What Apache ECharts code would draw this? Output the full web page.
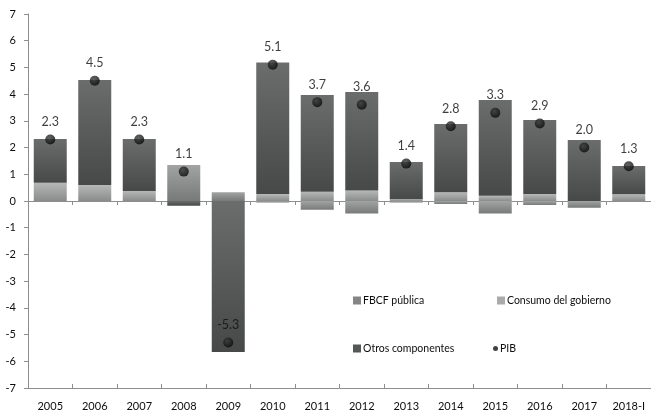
<!DOCTYPE html>
<html>
<head>
<meta charset="utf-8">
<script src="https://cdn.jsdelivr.net/npm/echarts@6/dist/echarts.min.js"></script>
<style>
  html, body { margin: 0; padding: 0; background: #ffffff; }
  #chart { width: 651px; height: 414px; }
</style>
</head>
<body>
<div id="chart"></div>
<script>
// Contribuciones al crecimiento del PIB (puntos porcentuales)
const years = ['2005','2006','2007','2008','2009','2010','2011','2012','2013','2014','2015','2016','2017','2018-I'];
const fbcfPublica = [0, 0, 0, 1.35, 0.33, -0.06, -0.33, -0.47, -0.06, -0.11, -0.47, -0.15, -0.25, 0];
const consumoGobierno = [0.68, 0.6, 0.37, 0, 0, 0.26, 0.35, 0.39, 0.07, 0.33, 0.2, 0.26, 0, 0.25];
const otrosComponentes = [1.64, 3.93, 1.95, -0.18, -5.65, 4.92, 3.62, 3.69, 1.39, 2.55, 3.58, 2.77, 2.28, 1.06];
const pib = [2.3, 4.5, 2.3, 1.1, -5.3, 5.1, 3.7, 3.6, 1.4, 2.8, 3.3, 2.9, 2.0, 1.3];
const yTicks = { min: -7, max: 7, step: 1 };

const FONT = 'Lato';
const axisGray = '#8e8e8e';
const textColor = '#0d0d0d';

function vgrad(top, bottom) {
  return new echarts.graphic.LinearGradient(0, 0, 0, 1, [
    { offset: 0, color: top },
    { offset: 1, color: bottom }
  ]);
}

const chart = echarts.init(document.getElementById('chart'), null, { renderer: 'canvas' });

const legendBase = {
  itemWidth: 8,
  itemHeight: 8,
  icon: 'rect',
  textStyle: { fontFamily: FONT, fontSize: 10.5, color: textColor, padding: [0, 0, 0, -3] }
};

chart.setOption({
  animation: false,
  backgroundColor: '#ffffff',
  grid: { left: 28, right: -7, top: 14, bottom: 26, containLabel: false },
  legend: [
    Object.assign({}, legendBase, { data: [{ name: 'FBCF pública', itemStyle: { color: '#858585' } }], left: 348, top: 290 }),
    Object.assign({}, legendBase, { data: [{ name: 'Consumo del gobierno', itemStyle: { color: '#ababab' } }], left: 492, top: 290 }),
    Object.assign({}, legendBase, { data: [{ name: 'Otros componentes', itemStyle: { color: '#555656' } }], left: 348, top: 338 }),
    Object.assign({}, legendBase, { data: [{ name: 'PIB', icon: 'circle', itemStyle: { color: '#111111' } }], left: 488, top: 338, itemWidth: 5, itemHeight: 5 })
  ],
  xAxis: [
    {
      type: 'category',
      data: years,
      position: 'bottom',
      axisLine: { onZero: true, lineStyle: { color: axisGray, width: 1 } },
      axisTick: { show: true, length: 4, lineStyle: { color: axisGray } },
      axisLabel: { show: false }
    },
    {
      type: 'category',
      data: years,
      position: 'bottom',
      axisLine: { onZero: true, show: true, lineStyle: { color: axisGray, width: 1 } },
      axisTick: { show: true, inside: true, length: 4, lineStyle: { color: axisGray } },
      axisLabel: { show: false }
    },
    {
      type: 'category',
      data: years,
      position: 'bottom',
      axisLine: { show: false, onZero: false },
      axisTick: { show: false },
      axisLabel: { show: true, margin: 13, fontFamily: FONT, fontSize: 11, color: textColor, interval: 0 }
    }
  ],
  yAxis: {
    type: 'value',
    min: yTicks.min,
    max: yTicks.max,
    interval: yTicks.step,
    axisLine: { show: true, lineStyle: { color: axisGray } },
    axisTick: { show: true, length: 4, lineStyle: { color: axisGray } },
    splitLine: { show: false },
    axisLabel: { margin: 12, fontFamily: FONT, fontSize: 11, color: textColor }
  },
  series: [
    {
      name: 'FBCF pública',
      type: 'bar',
      stack: 'contrib',
      barWidth: 33,
      data: fbcfPublica,
      itemStyle: { color: vgrad('#a2a3a3', '#787979') }
    },
    {
      name: 'Consumo del gobierno',
      type: 'bar',
      stack: 'contrib',
      barWidth: 33,
      data: consumoGobierno,
      itemStyle: { color: vgrad('#b6b8b8', '#8a8b8b') }
    },
    {
      name: 'Otros componentes',
      type: 'bar',
      stack: 'contrib',
      barWidth: 33,
      data: otrosComponentes,
      itemStyle: { color: vgrad('#6b6d6d', '#474848') }
    },
    {
      name: 'PIB',
      type: 'scatter',
      data: pib,
      symbol: 'circle',
      symbolSize: 10,
      z: 5,
      itemStyle: {
        color: new echarts.graphic.RadialGradient(0.4, 0.35, 0.65, [
          { offset: 0, color: '#3a3a3a' },
          { offset: 1, color: '#080808' }
        ])
      },
      label: {
        show: true,
        position: 'top',
        distance: 6,
        fontFamily: FONT,
        fontSize: 12.5,
        color: textColor,
        formatter: function (p) { return p.value.toFixed(1); }
      }
    }
  ]
});
</script>
</body>
</html>
